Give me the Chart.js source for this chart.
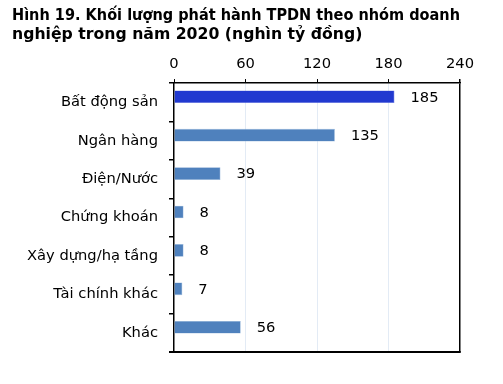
<!DOCTYPE html>
<html lang="vi">
<head>
    <meta charset="UTF-8">
    <title>Khối lượng phát hành TPDN</title>
    <script src="https://cdn.jsdelivr.net/npm/chart.js"></script>
    <style>
        html, body { margin: 0; padding: 0; background: #fff; }
        #wrap { width: 503px; height: 384px; }
    </style>
</head>
<body>
    <div id="wrap">
        <canvas id="bondChart" width="503" height="384"></canvas>
    </div>

    <script>
        // data
        const categories = ['Bất động sản', 'Ngân hàng', 'Điện/Nước', 'Chứng khoán', 'Xây dựng/hạ tầng', 'Tài chính khác', 'Khác'];
        const values = [185, 135, 39, 8, 8, 7, 56];
        const barColors = ['#2139D0', '#4F81BD', '#4F81BD', '#4F81BD', '#4F81BD', '#4F81BD', '#4F81BD'];
        const xTicks = [0, 60, 120, 180, 240];
        const titleLines = ['Hình 19. Khối lượng phát hành TPDN theo nhóm doanh', 'nghiệp trong năm 2020 (nghìn tỷ đồng)'];

        const labelFont = { family: 'DejaVu Sans', size: 14.7 };

        // value labels to the right of each bar
        const valueLabels = {
            id: 'valueLabels',
            afterDatasetsDraw(chart) {
                const ctx = chart.ctx;
                const meta = chart.getDatasetMeta(0);
                ctx.save();
                ctx.font = labelFont.size + 'px "' + labelFont.family + '"';
                ctx.fillStyle = '#000';
                ctx.textAlign = 'left';
                ctx.textBaseline = 'middle';
                meta.data.forEach((bar, i) => {
                    ctx.fillText(values[i], bar.x + 16, bar.y + 1);
                });
                ctx.restore();
            }
        };

        // closing line under the plot
        const bottomLine = {
            id: 'bottomLine',
            afterDraw(chart) {
                const a = chart.chartArea;
                const c2 = chart.ctx;
                c2.save();
                c2.strokeStyle = '#000';
                c2.lineWidth = 2;
                c2.beginPath();
                c2.moveTo(a.left - 5, Math.round(a.bottom));
                c2.lineTo(a.right + 0.75, Math.round(a.bottom));
                c2.stroke();
                c2.restore();
            }
        };

        const ctx = document.getElementById('bondChart').getContext('2d');
        new Chart(ctx, {
            type: 'bar',
            data: {
                labels: categories,
                datasets: [{
                    data: values,
                    backgroundColor: barColors,
                    borderColor: barColors.map(c => c === '#2139D0' ? '#6070E0' : '#8DB0D8'),
                    borderWidth: 0.6,
                    categoryPercentage: 0.575,
                    barPercentage: 1.15
                }, {
                    // empty second series, keeps bars above the category middle like the original
                    data: categories.map(() => null),
                    categoryPercentage: 0.575,
                    barPercentage: 1.15
                }]
            },
            options: {
                indexAxis: 'y',
                responsive: false,
                animation: false,
                layout: { padding: { left: 12, right: 43, top: 0, bottom: 32 } },
                plugins: {
                    legend: { display: false },
                    tooltip: { enabled: false },
                    title: {
                        display: true,
                        text: titleLines,
                        align: 'start',
                        color: '#000',
                        font: { family: 'DejaVu Sans', size: 15.7, weight: 'bold', lineHeight: 1.18 },
                        padding: { top: 7, bottom: 0 }
                    }
                },
                scales: {
                    x: {
                        position: 'top',
                        min: 0,
                        max: 240,
                        afterBuildTicks: s => { s.ticks = xTicks.map(v => ({ value: v })); },
                        afterFit: s => { s.height = 39; },
                        ticks: { color: '#000', font: labelFont, padding: 6 },
                        grid: {
                            color: c => c.tick && c.tick.value === 240 ? '#000' : (c.tick && c.tick.value > 0 ? '#E3EBF5' : 'transparent'),
                            lineWidth: c => c.tick && c.tick.value === 240 ? 1.5 : 1,
                            tickColor: '#000',
                            tickLength: 4
                        },
                        border: { color: '#000', width: 1.5 }
                    },
                    y: {
                        afterFit: s => { s.width = 162; },
                        ticks: { color: '#000', font: labelFont, padding: 11 },
                        grid: {
                            offset: true,
                            color: 'transparent',
                            lineWidth: 1.5,
                            tickColor: '#000',
                            tickLength: 5
                        },
                        border: { color: '#000', width: 1.5 }
                    }
                }
            },
            plugins: [valueLabels, bottomLine]
        });
    </script>
</body>
</html>
